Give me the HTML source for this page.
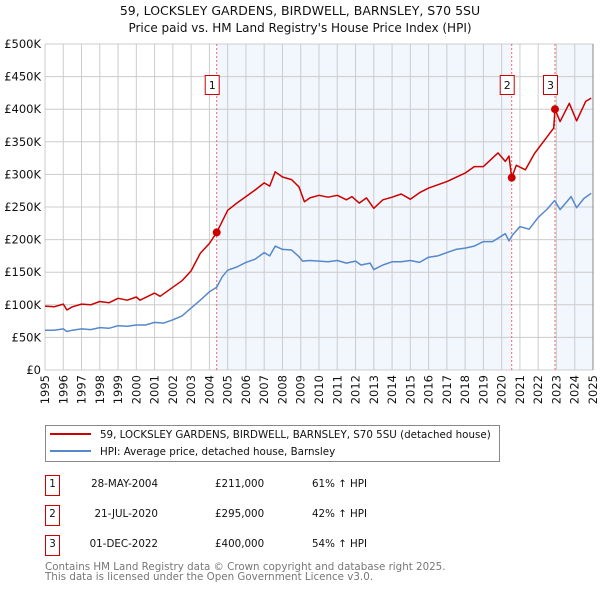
<!DOCTYPE html>
<html><head><meta charset="utf-8"><style>
body{margin:0;background:#fff;font-family:"DejaVu Sans","Liberation Sans",sans-serif;}
svg text{font-family:"DejaVu Sans","Liberation Sans",sans-serif;}
</style></head><body>
<svg id="c" width="600" height="590" xmlns="http://www.w3.org/2000/svg">
<text x="300" y="15" text-anchor="middle" font-size="12.5" fill="#111">59, LOCKSLEY GARDENS, BIRDWELL, BARNSLEY, S70 5SU</text>
<text x="300" y="32" text-anchor="middle" font-size="12" fill="#111">Price paid vs. HM Land Registry's House Price Index (HPI)</text>
<g id="plot"></g>
<g>
<rect x="45.5" y="425.5" width="454" height="36" fill="#fff" stroke="#888"/>
<line x1="50" y1="434" x2="91" y2="434" stroke="#cc0000" stroke-width="2"/>
<text x="100" y="438" font-size="10.3" fill="#111">59, LOCKSLEY GARDENS, BIRDWELL, BARNSLEY, S70 5SU (detached house)</text>
<line x1="50" y1="451" x2="91" y2="451" stroke="#5588cc" stroke-width="2"/>
<text x="100" y="455" font-size="10.3" fill="#111">HPI: Average price, detached house, Barnsley</text>
</g>
<g font-size="10.3" fill="#111">
<rect x="45.5" y="475.5" width="14" height="20" fill="#fff" stroke="#cc0000"/><text x="52.5" y="487" text-anchor="middle">1</text>
<text x="158" y="487" text-anchor="end">28-MAY-2004</text><text x="215" y="487">£211,000</text><text x="312" y="487">61% ↑ HPI</text>
<rect x="45.5" y="505.5" width="14" height="20" fill="#fff" stroke="#cc0000"/><text x="52.5" y="517" text-anchor="middle">2</text>
<text x="158" y="517" text-anchor="end">21-JUL-2020</text><text x="215" y="517">£295,000</text><text x="312" y="517">42% ↑ HPI</text>
<rect x="45.5" y="535.5" width="14" height="20" fill="#fff" stroke="#cc0000"/><text x="52.5" y="547" text-anchor="middle">3</text>
<text x="158" y="547" text-anchor="end">01-DEC-2022</text><text x="215" y="547">£400,000</text><text x="312" y="547">54% ↑ HPI</text>
</g>
<text x="45" y="570" font-size="10.3" fill="#777">Contains HM Land Registry data © Crown copyright and database right 2025.</text>
<text x="45" y="580" font-size="10.3" fill="#777">This data is licensed under the Open Government Licence v3.0.</text>
</svg>
<script>
const hpiYears=[1995,1995.5,1996,1996.2,1996.5,1997,1997.5,1998,1998.5,1999,1999.5,2000,2000.5,2001,2001.5,2002,2002.5,2003,2003.5,2004,2004.4,2004.7,2005,2005.5,2006,2006.5,2007,2007.3,2007.6,2008,2008.5,2008.9,2009.1,2009.5,2010,2010.5,2011,2011.5,2012,2012.3,2012.8,2013,2013.5,2014,2014.5,2015,2015.5,2016,2016.5,2017,2017.5,2018,2018.5,2019,2019.5,2020.2,2020.4,2020.6,2021,2021.5,2022,2022.5,2022.9,2023.2,2023.8,2024.1,2024.5,2024.9];
const hpiValues=[61,61,63,59,61,63,62,65,64,68,67,69,69,73,72,77,83,95,107,120,127,143,153,158,165,170,180,175,190,185,184,174,167,168,167,166,168,164,167,161,164,154,161,166,166,168,165,173,175,180,185,187,190,197,197,209,198,207,220,216,234,247,260,246,266,249,263,271];
const priceYears=[1995,1995.5,1996,1996.2,1996.5,1997,1997.5,1998,1998.5,1999,1999.5,2000,2000.2,2001,2001.3,2002,2002.5,2003,2003.5,2004,2004.4,2005,2005.5,2006,2006.5,2007,2007.3,2007.6,2008,2008.5,2008.9,2009.2,2009.5,2010,2010.5,2011,2011.5,2011.8,2012.2,2012.6,2013,2013.5,2014,2014.5,2015,2015.5,2016,2017,2018,2018.5,2019,2019.8,2020.2,2020.4,2020.55,2020.8,2021.3,2021.8,2022.5,2022.85,2022.92,2023.2,2023.7,2024.1,2024.6,2024.9];
const priceValues=[98,97,101,92,97,101,100,105,103,110,107,112,107,118,113,127,137,152,179,194,211,245,256,266,276,287,282,304,296,292,281,258,264,268,265,268,261,266,256,264,248,261,265,270,262,272,279,289,302,312,312,333,320,328,295,314,307,332,358,371,400,381,409,382,412,417];
const saleYears=[2004.4,2020.55,2022.92];
const saleValues=[211,295,400];
const saleLabels=["1","2","3"];
const yTicks=[0,50,100,150,200,250,300,350,400,450,500];
const yTickLabels=["£0","£50K","£100K","£150K","£200K","£250K","£300K","£350K","£400K","£450K","£500K"];
const xTicks=[1995,1996,1997,1998,1999,2000,2001,2002,2003,2004,2005,2006,2007,2008,2009,2010,2011,2012,2013,2014,2015,2016,2017,2018,2019,2020,2021,2022,2023,2024,2025];

const NS="http://www.w3.org/2000/svg";
const L=45,R=593,T=44,B=370;
const xs=y=>L+(y-1995)/30*(R-L);
const ys=v=>B-v/500*(B-T);
const g=document.getElementById('plot');
function mk(t,a,p){const e=document.createElementNS(NS,t);for(const k in a)e.setAttribute(k,a[k]);(p||g).appendChild(e);return e;}
const bg=mk('rect',{x:L,y:T,width:R-L,height:B-T,fill:'#fff'});


const sh1=mk('rect',{x:xs(saleYears[0]),y:T,width:xs(saleYears[1])-xs(saleYears[0]),height:B-T,fill:'#f2f6fd'});


const sh2=mk('rect',{x:xs(saleYears[2]),y:T,width:R-xs(saleYears[2]),height:B-T,fill:'#f2f6fd'});


yTicks.forEach((v,i)=>{
 const ln=mk('line',{x1:L,x2:R,y1:ys(v),y2:ys(v),stroke:'#cccccc','stroke-width':1});
 
 
 const t=mk('text',{x:L-4,y:ys(v)+4,'text-anchor':'end','font-size':'11.5',fill:'#111'});
 t.textContent=yTickLabels[i];
 
 
});
xTicks.forEach(yr=>{
 const ln=mk('line',{x1:xs(yr),x2:xs(yr),y1:T,y2:B,stroke:'#cccccc','stroke-width':1});
 
 
 const t=mk('text',{x:0,y:0,'text-anchor':'end','font-size':'11.5',fill:'#111',transform:`translate(${xs(yr)+4},${B+5}) rotate(-90)`});
 t.textContent=String(yr);
 
 
});
const ax=mk('line',{x1:R,x2:R,y1:T,y2:B,stroke:'#888','stroke-width':1});


saleYears.forEach((yr,i)=>{
 const d=mk('line',{x1:xs(yr),x2:xs(yr),y1:T,y2:B,stroke:'#ee6666','stroke-width':1,'stroke-dasharray':'2,2'});
 
 
});
function path(xa,va,col,name){
 const p=mk('path',{d:xa.map((x,i)=>(i?'L':'M')+xs(x).toFixed(1)+','+ys(va[i]).toFixed(1)).join(''),fill:'none',stroke:col,'stroke-width':1.5,'stroke-linejoin':'round'});
 
 
}
path(hpiYears,hpiValues,'#5588cc','hpi-line');
path(priceYears,priceValues,'#cc0000','price-line');
saleYears.forEach((yr,i)=>{
 const c=mk('circle',{cx:xs(yr),cy:ys(saleValues[i]),r:4,fill:'#cc0000'});
 
 
 const b=mk('rect',{x:xs(yr)-11.5,y:75.5,width:14,height:19,fill:'#fff',stroke:'#cc0000'});
 
 
 const t=mk('text',{x:xs(yr)-4.5,y:89,'text-anchor':'middle','font-size':'11',fill:'#111'});
 t.textContent=saleLabels[i];
 
 
});
</script>
</body></html>
